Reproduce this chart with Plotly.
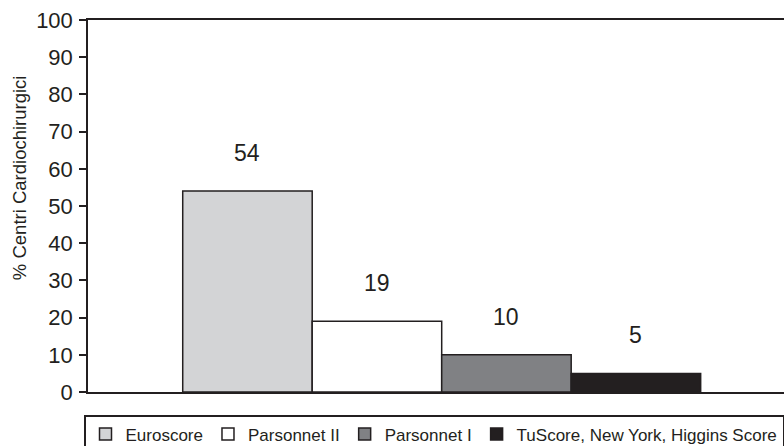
import plotly.graph_objects as go

# Data
series_names = ["Euroscore", "Parsonnet II", "Parsonnet I", "TuScore, New York, Higgins Score"]
series_values = [54, 19, 10, 5]
series_colors = ["#d3d4d6", "#ffffff", "#808184", "#231f20"]
category = [""]
y_ticks = [0, 10, 20, 30, 40, 50, 60, 70, 80, 90, 100]
y_title = "% Centri Cardiochirurgici"

INK = "#231f20"
FONT = "Liberation Sans, Arial, sans-serif"

fig = go.Figure()
for name, val, col in zip(series_names, series_values, series_colors):
    fig.add_trace(go.Bar(
        x=category, y=[val], name=name,
        marker=dict(color=col, line=dict(color=INK, width=1.5)),
        hoverinfo="skip",
    ))

# value labels above each bar (grouped positions on the single category)
n = len(series_values)
bargap = 0.2
bw = (1 - bargap) / n
annotations = []
for i, val in enumerate(series_values):
    xc = -(1 - bargap) / 2 + bw * (i + 0.5)
    annotations.append(dict(
        x=xc, y=val, xref="x", yref="y", text=str(val), showarrow=False,
        yanchor="middle", yshift=38, font=dict(size=23, color=INK, family=FONT),
    ))

# y-axis title
annotations.append(dict(
    x=-0.0991, y=0.575, xref="paper", yref="paper", text=y_title, textangle=-90,
    showarrow=False, xanchor="center", yanchor="middle",
    font=dict(size=18.5, color=INK, family=FONT),
))

fig.update_layout(
    width=784, height=446,
    margin=dict(l=88, r=0, t=20, b=54),
    paper_bgcolor="white", plot_bgcolor="white",
    barmode="group", bargap=bargap, bargroupgap=0,
    font=dict(family=FONT, color=INK),
    annotations=annotations,
    showlegend=True,
    legend=dict(
        orientation="h", xref="paper", x=0, xanchor="left",
        yref="container", y=1 - 415 / 446, yanchor="top",
        bordercolor=INK, borderwidth=1.5, bgcolor="white",
        font=dict(size=17, color=INK, family=FONT),
        traceorder="normal",
    ),
    xaxis=dict(
        range=[-0.5463, 0.5287], showticklabels=False, ticks="",
        showline=True, linecolor=INK, linewidth=1.5, mirror=True,
        showgrid=False, zeroline=False, fixedrange=True,
    ),
    yaxis=dict(
        range=[0, 100], tickvals=y_ticks, ticks="outside", ticklen=7,
        tickwidth=1.5, tickcolor=INK, showline=True, linecolor=INK, linewidth=1.5,
        showgrid=False, zeroline=False, ticklabelstandoff=2,
        tickfont=dict(size=22, color=INK, family=FONT),
    ),
)

fig.write_html("out.html")
